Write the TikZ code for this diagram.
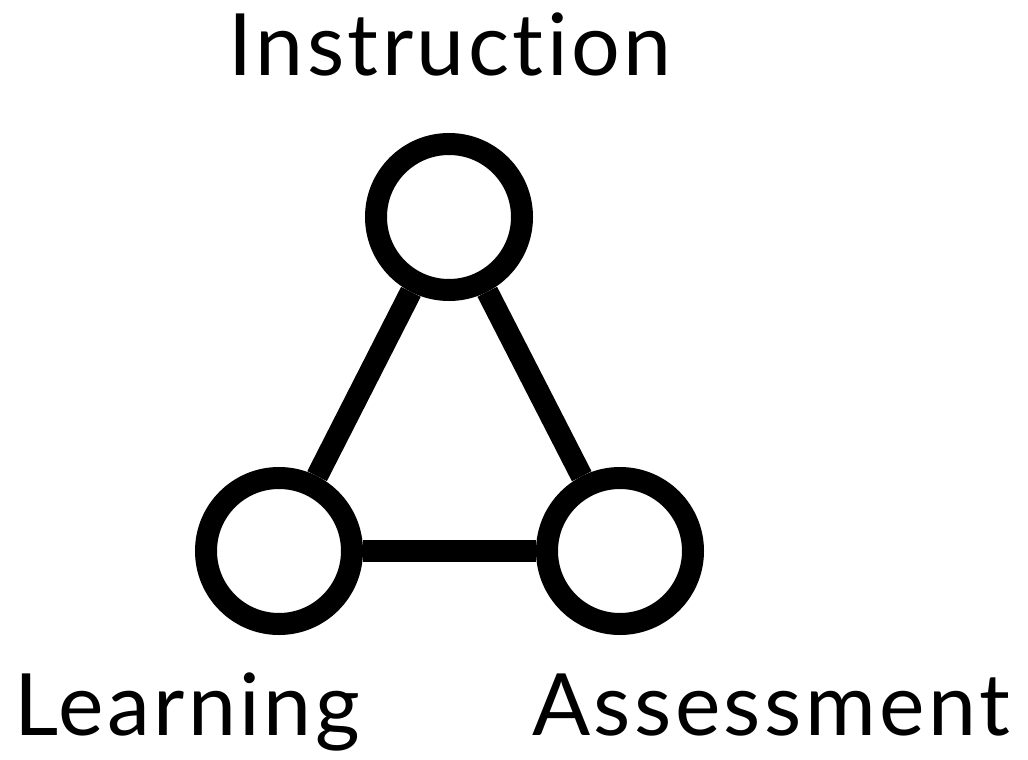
\documentclass[tikz,border=0pt]{standalone}
\usepackage{fontspec}
\setmainfont{Lato}[Ligatures=NoCommon,LetterSpace=4]
\begin{document}
\begin{tikzpicture}[x=1pt,y=-1pt,
    vertex/.style={circle,draw,line width=22pt,minimum size=146pt,inner sep=0pt},
    word/.style={anchor=base,inner sep=0pt,font=\fontsize{86}{86}\selectfont}]
  \useasboundingbox (0,0) rectangle (1028,760);
  % the three stages
  \node[vertex](instr)at(449,217){};
  \node[vertex](learn)at(279,551){};
  \node[vertex](assess)at(620,551){};
  \draw[line width=22pt](instr)--(learn);
  \draw[line width=22pt](instr)--(assess);
  \draw[line width=22pt](learn)--(assess);
  % names
  \node[word](tinstr)at(450,75){Instruction};
  \node[word](tlearn)at(187,735){Learning};
  \node[word](tassess)at(771,735){Assessment};
\end{tikzpicture}
\end{document}
